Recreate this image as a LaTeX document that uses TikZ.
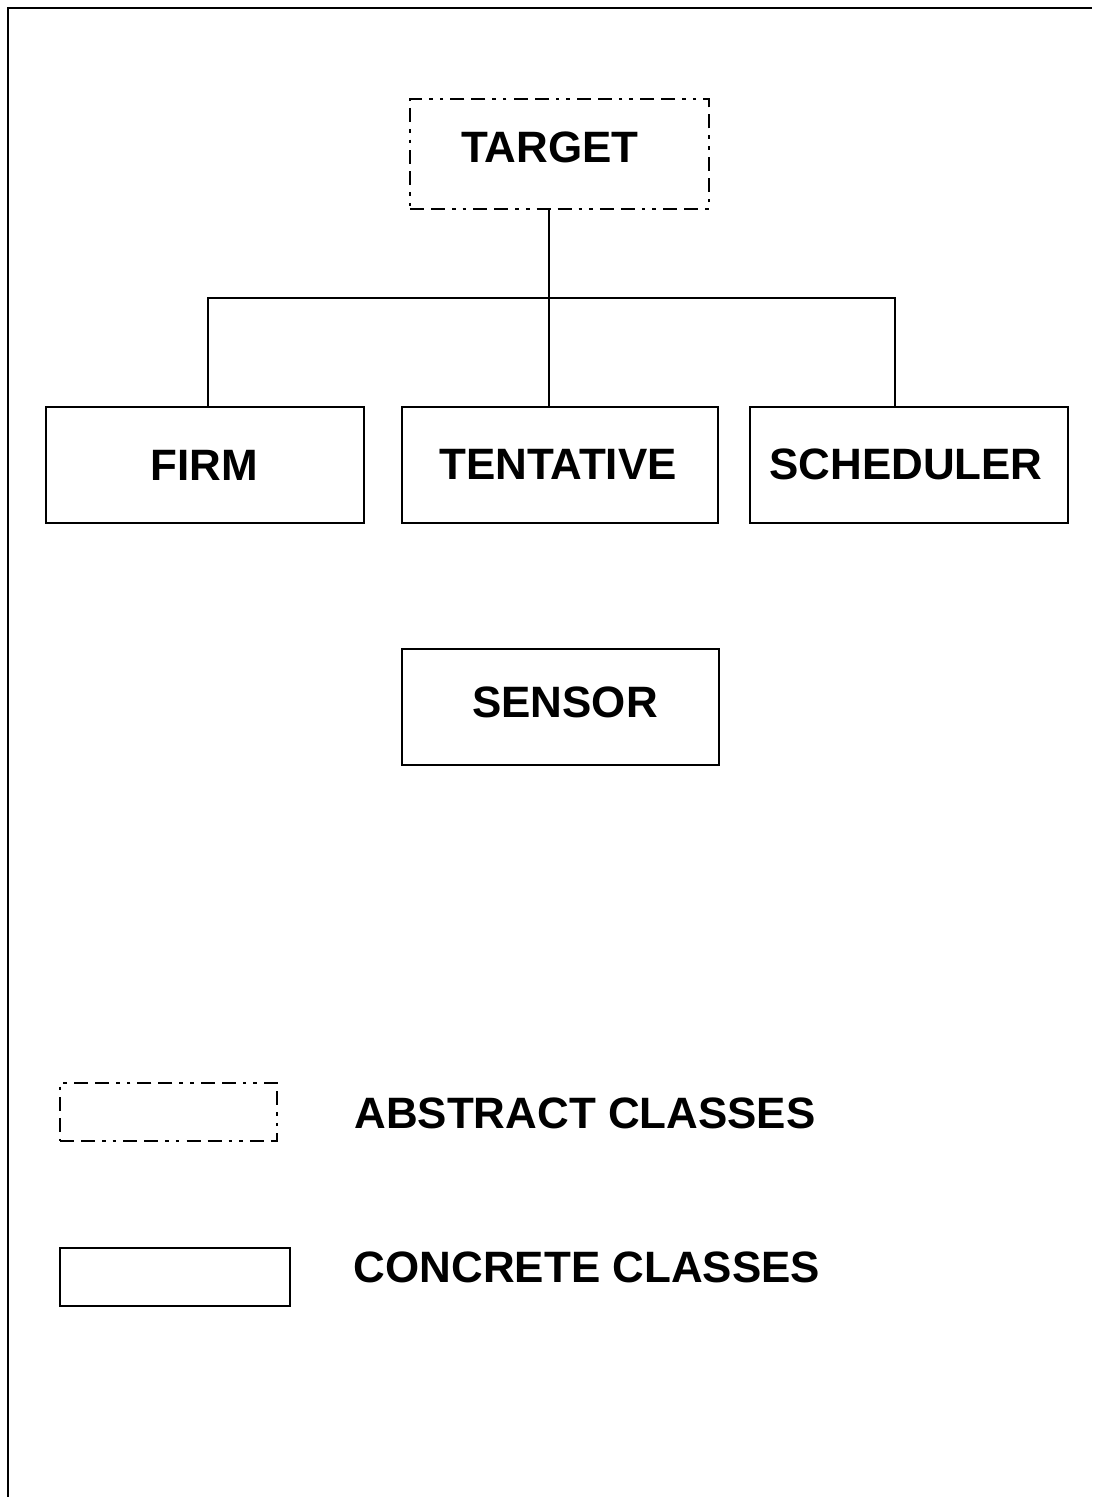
\documentclass[tikz,border=0pt]{standalone}
\usepackage{fontspec}
\setmainfont{Liberation Sans}
\begin{document}
\begin{tikzpicture}[x=0.02cm,y=-0.02cm,
  classbox/.style={draw=black, line width=1.2pt, rectangle, inner sep=0pt,
    minimum width=#1, minimum height=2.32cm},
  abstractbox/.style={classbox=#1, line width=1.1pt,
    dash pattern=on 8pt off 4pt on 8pt off 4pt on 2pt off 4pt on 2pt off 4pt},
  link/.style={draw=black, line width=1.1pt},
  classname/.style={inner sep=0pt, font=\bfseries\fontsize{25}{30}\selectfont}]
\useasboundingbox (0,0) rectangle (1092,1497);
% page frame (left and top edges)
\draw[line width=1.6pt] (8,1497) -- (8,8) -- (1092,8);

% class hierarchy
\node[abstractbox=5.98cm, minimum height=2.2cm] (target) at (559.5,154) {};
\node[classbox=6.36cm] (firm) at (205,465) {};
\node[classbox=6.32cm] (tent) at (560,465) {};
\node[classbox=6.36cm] (sched) at (909,465) {};
\node[classbox=6.34cm] (sensor) at (560.5,707) {};

\node[classname] (targett) at (550,147) {TARGET};
\node[classname] (firmt) at (204,465) {FIRM};
\node[classname] (tentt) at (558,464) {TENTATIVE};
\node[classname] (schedt) at (906,464) {SCHEDULER};
\node[classname] (sensort) at (565,702) {SENSOR};

% inheritance bus
\coordinate (bus) at (549,298);
\coordinate (busL) at (208,298);
\coordinate (busR) at (895,298);
\draw[link] (target.south -| bus) -- (bus |- tent.north);
\draw[link] (firm.north -| busL) -- (busL) -- (busR) -- (sched.north -| busR);

% legend
\node[abstractbox=4.34cm, minimum height=1.16cm] (legA) at (168.5,1112) {};
\node[classbox=4.6cm, minimum height=1.16cm] (legC) at (175,1277) {};
\node[classname] (legAt) at (585,1113) {ABSTRACT CLASSES};
\node[classname] (legCt) at (587,1267) {CONCRETE CLASSES};
\end{tikzpicture}
\end{document}
